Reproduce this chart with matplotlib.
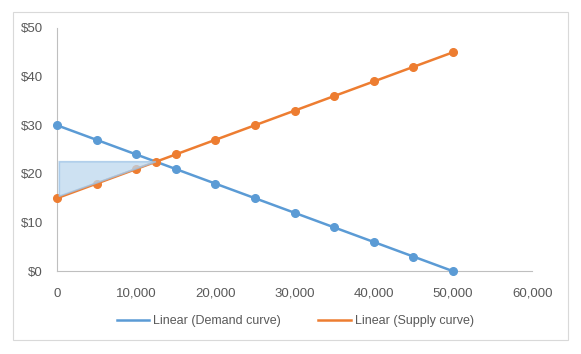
import numpy as np
import matplotlib.pyplot as plt
from matplotlib.patches import Polygon, Rectangle

# dados
qtd = [0, 5000, 10000, 15000, 20000, 25000, 30000, 35000, 40000, 45000, 50000]
demanda = [30, 27, 24, 21, 18, 15, 12, 9, 6, 3, 0]
qtd_oferta = [0, 5000, 10000, 12500, 15000, 20000, 25000, 30000, 35000, 40000, 45000, 50000]
oferta = [15, 18, 21, 22.5, 24, 27, 30, 33, 36, 39, 42, 45]
q_eq = 12500
p_eq = 22.5

azul = '#5b9bd5'
laranja = '#ed7d31'
cinza = '#595959'

plt.rcParams['font.family'] = ['Liberation Sans', 'DejaVu Sans']

fig = plt.figure(figsize=(5.81, 3.54), dpi=100)
ax = fig.add_axes([0.098, 0.234, 0.818, 0.687])

# borda externa do grafico
fig.patches.append(Rectangle((0.022, 0.04), 0.956, 0.925, transform=fig.transFigure,
                             fill=False, edgecolor='#d9d9d9', linewidth=0.8))

ax.plot(qtd, demanda, color=azul, lw=1.8, marker='o', ms=5.5, label='Linear (Demand curve)',
        zorder=3, clip_on=False)
ax.plot(qtd_oferta, oferta, color=laranja, lw=1.8, marker='o', ms=5.5, label='Linear (Supply curve)',
        zorder=3, clip_on=False)

# excedente do produtor (sombreado)
sombra = Polygon([(300, p_eq), (q_eq, p_eq), (300, oferta[0] + 0.4)], closed=True,
                 facecolor='#bdd7ee', edgecolor='#9dc3e6', alpha=0.75, lw=1.2, zorder=4)
ax.add_patch(sombra)

ax.set_xlim(0, 60000)
ax.set_ylim(0, 50)
ax.set_xticks(np.arange(0, 60001, 10000))
ax.set_yticks(np.arange(0, 51, 10))
ax.set_xticklabels([f'{v:,}' for v in range(0, 60001, 10000)])
ax.set_yticklabels([f'${v}' for v in range(0, 51, 10)])
ax.tick_params(length=0, colors=cinza, labelsize=9.5)
ax.tick_params(axis='x', pad=12)
ax.tick_params(axis='y', pad=10)
for s in ['top', 'right']:
    ax.spines[s].set_visible(False)
for s in ['left', 'bottom']:
    ax.spines[s].set_color('#bfbfbf')
    ax.spines[s].set_linewidth(0.8)

fig.legend(handles=ax.get_lines(), loc='center', bbox_to_anchor=(0.508, 0.093), ncol=2,
           frameon=False, fontsize=9, labelcolor=cinza, handlelength=2.6, columnspacing=3.0,
           handletextpad=0.3)
for h in fig.legends[0].legend_handles:
    h.set_marker('')

fig.savefig('out.png', dpi=100)
